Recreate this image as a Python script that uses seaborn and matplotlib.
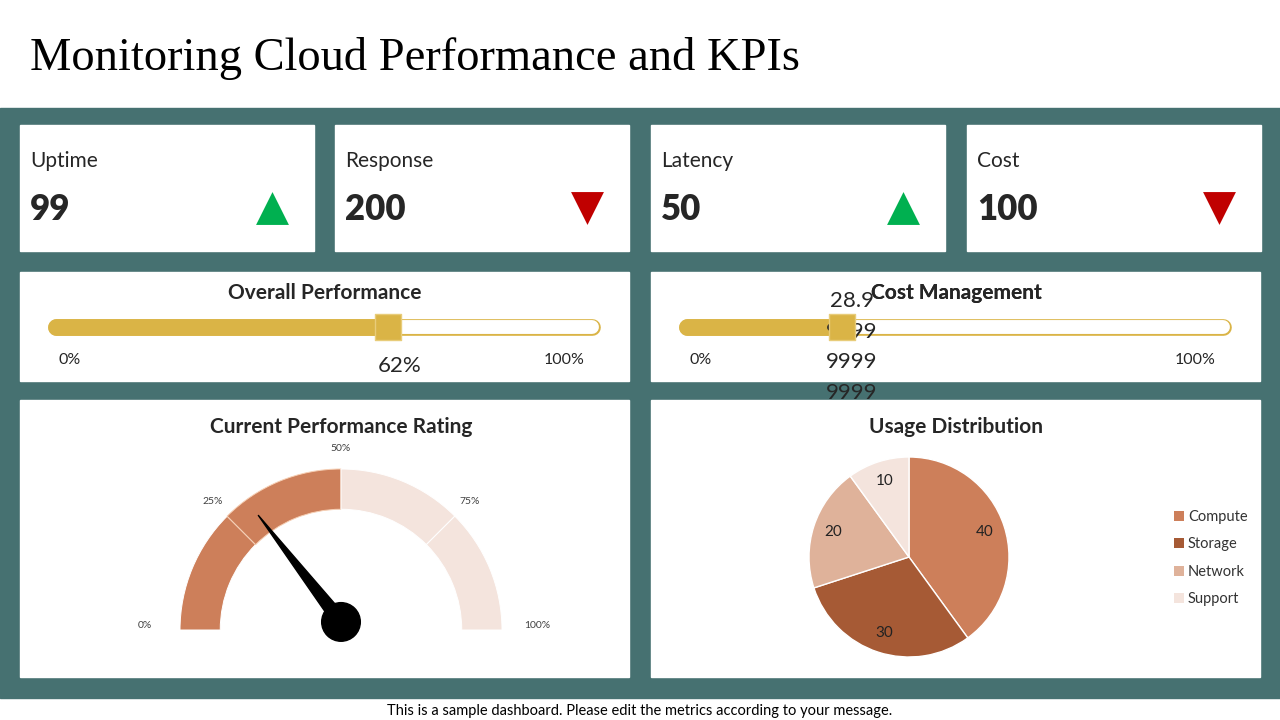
import numpy as np
import matplotlib
matplotlib.use("Agg")
import matplotlib.pyplot as plt
import seaborn as sns
from matplotlib.patches import Rectangle, Circle, Polygon
from matplotlib.transforms import Bbox, TransformedBbox

# ---------------- data ----------------
kpi_names = ["Uptime", "Response", "Latency", "Cost"]
kpi_values = ["99", "200", "50", "100"]
kpi_trend = ["up", "down", "up", "down"]

slider_titles = ["Overall Performance", "Cost Management"]
slider_values = [62, 28.9999]
slider_labels = ["62%", "28.9\n9999\n9999\n9999"]

gauge_title = "Current Performance Rating"
gauge_ticks = [0, 25, 50, 75, 100]
gauge_tick_labels = ["0%", "25%", "50%", "75%", "100%"]
gauge_bands = [25, 25, 25, 25]
gauge_value = 28.9999

usage_title = "Usage Distribution"
usage_labels = ["Compute", "Storage", "Network", "Support"]
usage_values = [40, 30, 20, 10]

# ---------------- style ----------------
TEAL = "#467171"
GOLD = "#DAB446"
C_DARK = "#CD7F5A"
C_LIGHT = "#F4E4DD"
PIE_COLORS = ["#CD7F5A", "#A65A35", "#DFB29A", "#F4E4DD"]
UP, DOWN = "#00B050", "#C00000"

sns.set_theme(style="white")
plt.rcParams["font.family"] = ["Lato", "DejaVu Sans"]

W, H = 1280, 720
fig = plt.figure(figsize=(12.8, 7.2), dpi=100)
fig.patch.set_facecolor("white")


def px_axes(x0, y0, x1, y1, z=1):
    ax = fig.add_axes([x0 / W, 1 - y1 / H, (x1 - x0) / W, (y1 - y0) / H])
    ax.set_zorder(z)
    ax.axis("off")
    return ax


bg = px_axes(0, 0, W, H, z=0)
bg.set_xlim(0, W)
bg.set_ylim(H, 0)

bg.text(30, 58, "Monitoring Cloud Performance and KPIs", family="Liberation Serif",
        fontsize=33.5, va="center", ha="left", color="black")
bg.add_patch(Rectangle((0, 108), W, 590, color=TEAL, zorder=1))
bg.text(640, 711, "This is a sample dashboard. Please edit the metrics according to your message.",
        fontsize=10.5, ha="center", va="center", color="black")

# ---------------- KPI cards ----------------
card_x = [20, 335, 651, 967]
for x0, name, val, trend in zip(card_x, kpi_names, kpi_values, kpi_trend):
    bg.add_patch(Rectangle((x0, 125), 294, 126, color="white", zorder=2))
    bg.text(x0 + 10, 161, name, fontsize=15, va="center", zorder=3)
    bg.text(x0 + 10, 210, val, fontsize=25, fontweight="heavy", va="center", zorder=3)
    bg.scatter([x0 + 252], [208], marker="^" if trend == "up" else "v", s=560,
               color=UP if trend == "up" else DOWN, zorder=3, linewidths=0)

# ---------------- sliders ----------------
slider_x = [20, 651]
for i, (x0, title, v) in enumerate(zip(slider_x, slider_titles, slider_values)):
    bg.add_patch(Rectangle((x0, 272), 609, 109, color="white", zorder=2))
    bg.text(x0 + 305, 293, title, fontsize=15, fontweight="bold", ha="center", va="center", zorder=3)
    bg.text(x0 + 50, 360, "0%", fontsize=11.5, ha="center", va="center", zorder=3)
    bg.text(x0 + 544, 360, "100%", fontsize=11.5, ha="center", va="center", zorder=3)

    ax = px_axes(x0 + 36, 312, x0 + 572, 342, z=2)
    ax.set_xlim(0, 100)
    ax.set_ylim(-1, 1)
    sns.lineplot(x=[0, 100], y=[0, 0], ax=ax, color=GOLD, lw=12, solid_capstyle="round")
    sns.lineplot(x=[v, 100], y=[0, 0], ax=ax, color="white", lw=10, solid_capstyle="round")
    sns.lineplot(x=[0, v], y=[0, 0], ax=ax, color=GOLD, lw=12, solid_capstyle="round")
    for ln in ax.lines:
        ln.set_clip_on(False)
    if i == 0:
        ax.scatter([v], [0], marker="s", s=340, color=GOLD, edgecolor="#E8CC7A",
                   linewidth=1, zorder=6, clip_on=False)
        bg.text(x0 + 380, 366, slider_labels[i], fontsize=16, ha="center", va="center", zorder=3)
    else:
        t = ax.text(x0 + 201, 291, slider_labels[i], fontsize=16, ha="center", va="top",
                    linespacing=1.66, transform=bg.transData, zorder=4)
        t.set_clip_box(TransformedBbox(Bbox.from_extents(0, 1 - 400 / H, 1, 1), fig.transFigure))
        ax.scatter([v], [0], marker="s", s=340, color=GOLD, edgecolor="#E8CC7A",
                   linewidth=1, zorder=6, clip_on=False)
        # title drawn on top of the overflowing label
        ax.text(x0 + 305, 293, title, fontsize=15, fontweight="bold", ha="center",
                va="center", transform=bg.transData, zorder=7)

# ---------------- gauge ----------------
bg.add_patch(Rectangle((20, 400), 609, 277, color="white", zorder=2))
bg.add_patch(Rectangle((651, 400), 609, 277, color="white", zorder=2))
bg.text(341, 427, gauge_title, fontsize=15, fontweight="bold", ha="center", va="center", zorder=3)
bg.text(956, 427, usage_title, fontsize=15, fontweight="bold", ha="center", va="center", zorder=3)

gx, gy, gr = 341, 630, 161
gax = px_axes(gx - 210, gy - 210, gx + 210, gy + 210, z=2)
gax.pie(gauge_bands + [sum(gauge_bands)], startangle=180, counterclock=False,
        colors=[C_DARK, C_DARK, C_LIGHT, C_LIGHT, "none"], radius=1,
        wedgeprops=dict(width=0.25, edgecolor="white", linewidth=0.7))
gax.patches[1].set_edgecolor("#F6CFB4")
gax.patches[-1].set_visible(False)
gax.set_xlim(-210 / gr, 210 / gr)
gax.set_ylim(-210 / gr, 210 / gr)
for tk, lab in zip(gauge_ticks, gauge_tick_labels):
    a = np.deg2rad(180 - tk * 1.8)
    r = 1.22 if tk in (0, 100) else 1.13
    gax.text(r * np.cos(a), r * np.sin(a) + (0.03 if tk in (0, 100) else 0.0), lab,
             fontsize=7.5, ha="center", va="center", color="#404040")
a = np.deg2rad(180 - gauge_value * 1.8)
hub = np.array([0, 0.05])
tip = hub + 0.84 * np.array([np.cos(a), np.sin(a)])
perp = np.array([-np.sin(a), np.cos(a)]) * 0.045
gax.add_patch(Polygon([hub + perp, tip, hub - perp], closed=True, color="black", zorder=5))
gax.add_patch(Circle(hub, 0.12, color="black", zorder=6))

# ---------------- pie ----------------
pr = 100
pax = px_axes(909 - pr - 5, 557 - pr - 5, 909 + pr + 5, 557 + pr + 5, z=2)
wedges, texts = pax.pie(usage_values, labels=[str(v) for v in usage_values], colors=PIE_COLORS,
                        startangle=90, counterclock=False, labeldistance=0.8, radius=1,
                        textprops=dict(fontsize=11, color="#222222"))
for tx in texts:
    tx.set_ha("center")
    tx.set_va("center")
pax.set_xlim(-1.05, 1.05)
pax.set_ylim(-1.05, 1.05)
for j, (lab, c) in enumerate(zip(usage_labels, PIE_COLORS)):
    y = 516 + j * 27.3
    bg.scatter([1179], [y], marker="s", s=55, color=c, zorder=3, linewidths=0)
    bg.text(1188, y + 1, lab, fontsize=10.5, va="center", color="#333333", zorder=3)

fig.savefig("out.png", dpi=100)
